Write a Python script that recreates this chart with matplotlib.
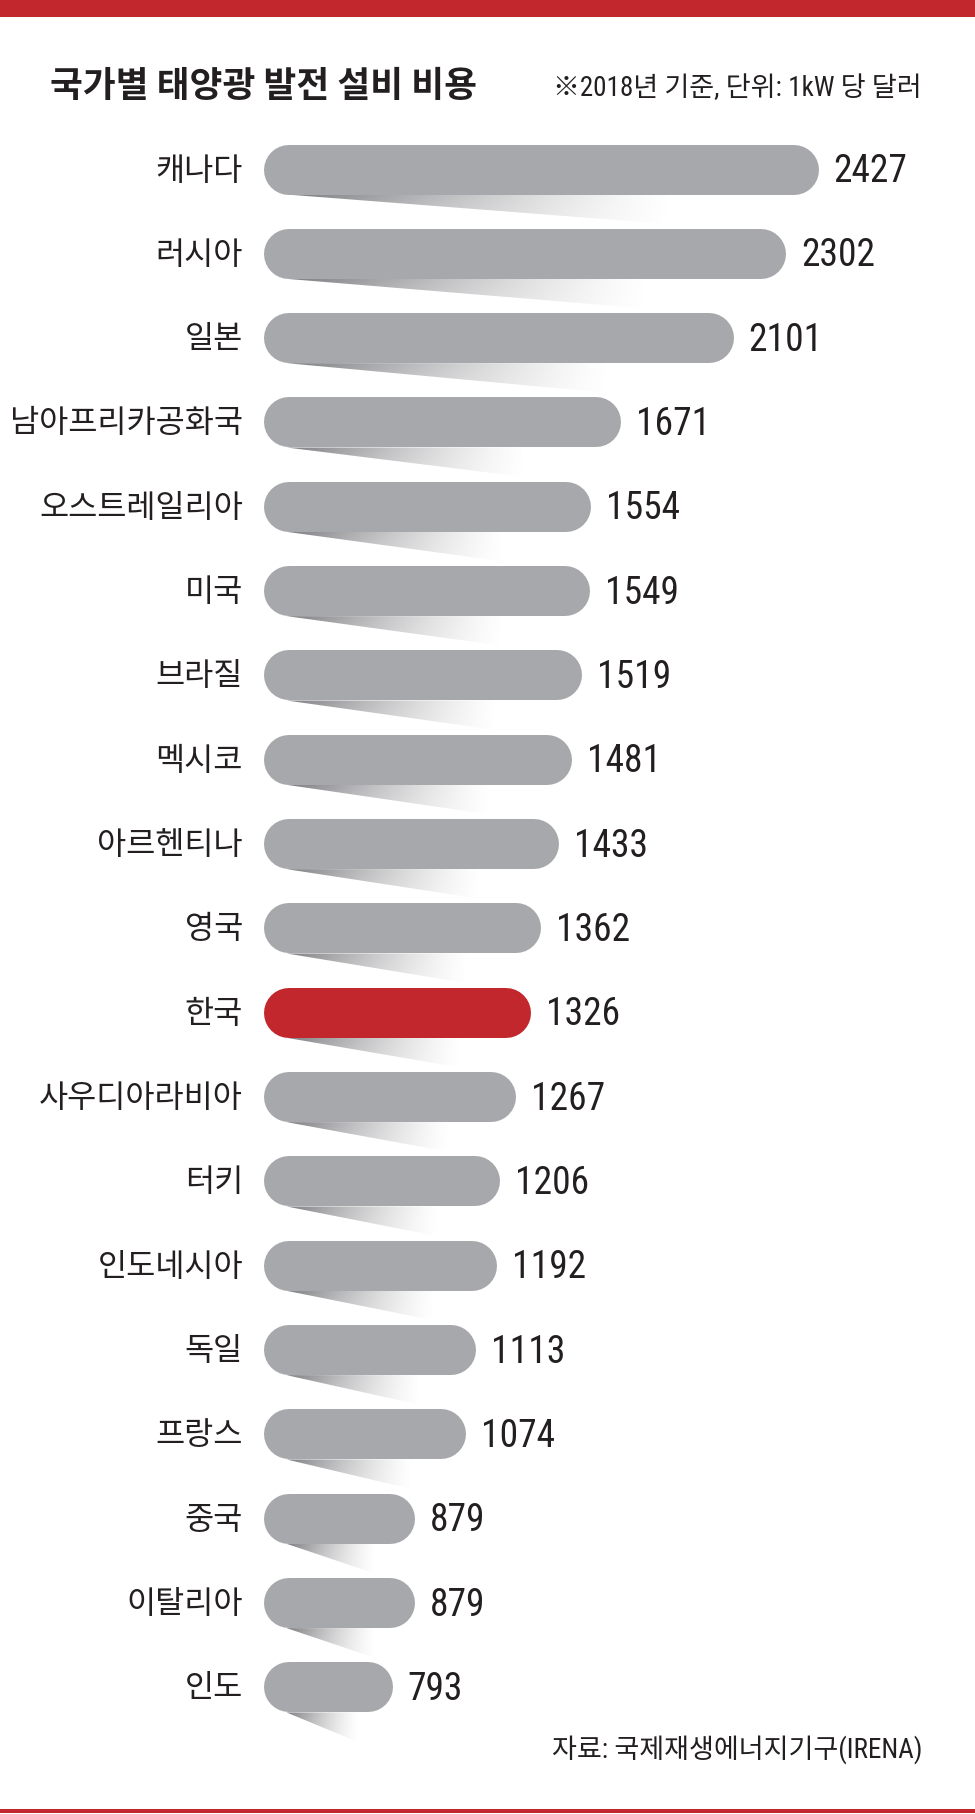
"""
국가별 태양광 발전 설비 비용 (2018, 1kW 당 달러)
둥근 막대 + 아래쪽 그라데이션 그림자
"""
import numpy as np
import matplotlib.pyplot as plt
from matplotlib.patches import Rectangle, Polygon

# 데이터
countries = ['캐나다', '러시아', '일본', '남아프리카공화국', '오스트레일리아', '미국',
             '브라질', '멕시코', '아르헨티나', '영국', '한국', '사우디아라비아', '터키',
             '인도네시아', '독일', '프랑스', '중국', '이탈리아', '인도']
costs = [2427, 2302, 2101, 1671, 1554, 1549, 1519, 1481, 1433, 1362, 1326, 1267,
         1206, 1192, 1113, 1074, 879, 879, 793]
highlight = '한국'

title = '국가별 태양광 발전 설비 비용'
note = '※2018년 기준, 단위: 1kW 당 달러'
source = '자료: 국제재생에너지기구(IRENA)'

# 스타일
RED = '#C1272D'
GRAY = '#A7A8AB'
INK = '#231F20'
KR = ['Noto Sans CJK KR', 'DejaVu Sans']
NARROW = ['Roboto Condensed', 'Noto Sans CJK KR', 'DejaVu Sans']

W, H, DPI = 975, 1814, 100
base = 300            # 막대가 시작하는 값
ppu = 0.2607          # 값 1당 픽셀
x0_px = 264           # 막대 시작 위치(px)
row_px = 84.33        # 행 간격(px)
first_px = 169.5      # 첫 행 중심(px, 위에서)
bar_px = 50           # 막대 두께(px)

fig = plt.figure(figsize=(W / DPI, H / DPI), dpi=DPI)
ax = fig.add_axes([0, 0, 1, 1])
ax.set_xlim(base - x0_px / ppu, base + (W - x0_px) / ppu)
ax.set_ylim((H - first_px) / row_px, -first_px / row_px)
ax.axis('off')

r = bar_px / 2 / ppu          # 둥근 끝 반지름 (데이터 단위)
hb = bar_px / 2 / row_px      # 막대 반높이 (행 단위)
depth = 30 / row_px           # 그림자 깊이

# 그림자용 그라데이션
nx, ny = 200, 30
tx = np.linspace(0, 1, nx)[None, :]
sy = np.linspace(0, 1, ny)[:, None]
alpha = 0.85 * np.clip(1 - tx, 0, 1) ** 1.3 * (1 - 0.3 * sy)
grad = np.zeros((ny, nx, 4))
grad[..., :3] = (0.40, 0.40, 0.42)
grad[..., 3] = alpha

for i, (name, v) in enumerate(zip(countries, costs)):
    L = v - base
    yb = i + hb
    xs = base + r * 0.9
    xe = base + 0.74 * L
    poly = Polygon([(xs, yb), (base + 0.85 * L, yb), (xe, yb + depth)],
                   closed=True, transform=ax.transData)
    im = ax.imshow(grad, extent=(xs, xe, yb + depth, yb), origin='upper',
                   aspect='auto', interpolation='bilinear', zorder=1)
    im.set_clip_path(poly)

    color = RED if name == highlight else GRAY
    ax.plot([base + r, v - r], [i, i], color=color, linewidth=bar_px * 72 / DPI,
            solid_capstyle='round', zorder=2)

    ax.annotate(name, xy=(base, i), xytext=(-21, -1), textcoords='offset pixels',
                ha='right', va='center', fontsize=22.8, color=INK, family=KR)
    ax.annotate(f'{v}', xy=(v, i), xytext=(15, -2), textcoords='offset pixels',
                ha='left', va='center', fontsize=27, color=INK, family=NARROW)

# 제목, 주석, 출처
fig.text(50 / W, 1 - 87 / H, title, ha='left', va='center', fontsize=25.7,
         fontweight='bold', color=INK, family=KR)
fig.text(922 / W, 1 - 89 / H, note, ha='right', va='center', fontsize=19.5,
         color=INK, family=NARROW)
fig.text(923 / W, 1 - 1750 / H, source, ha='right', va='center', fontsize=19.5,
         color=INK, family=NARROW)

# 위/아래 빨간 띠
fig.patches.append(Rectangle((0, 1 - 17 / H), 1, 17 / H, transform=fig.transFigure,
                             facecolor=RED, edgecolor='none'))
fig.patches.append(Rectangle((0, 1 / H), 1, 4 / H, transform=fig.transFigure,
                             facecolor=RED, edgecolor='none'))

fig.savefig('out.png', dpi=DPI)
plt.close(fig)
